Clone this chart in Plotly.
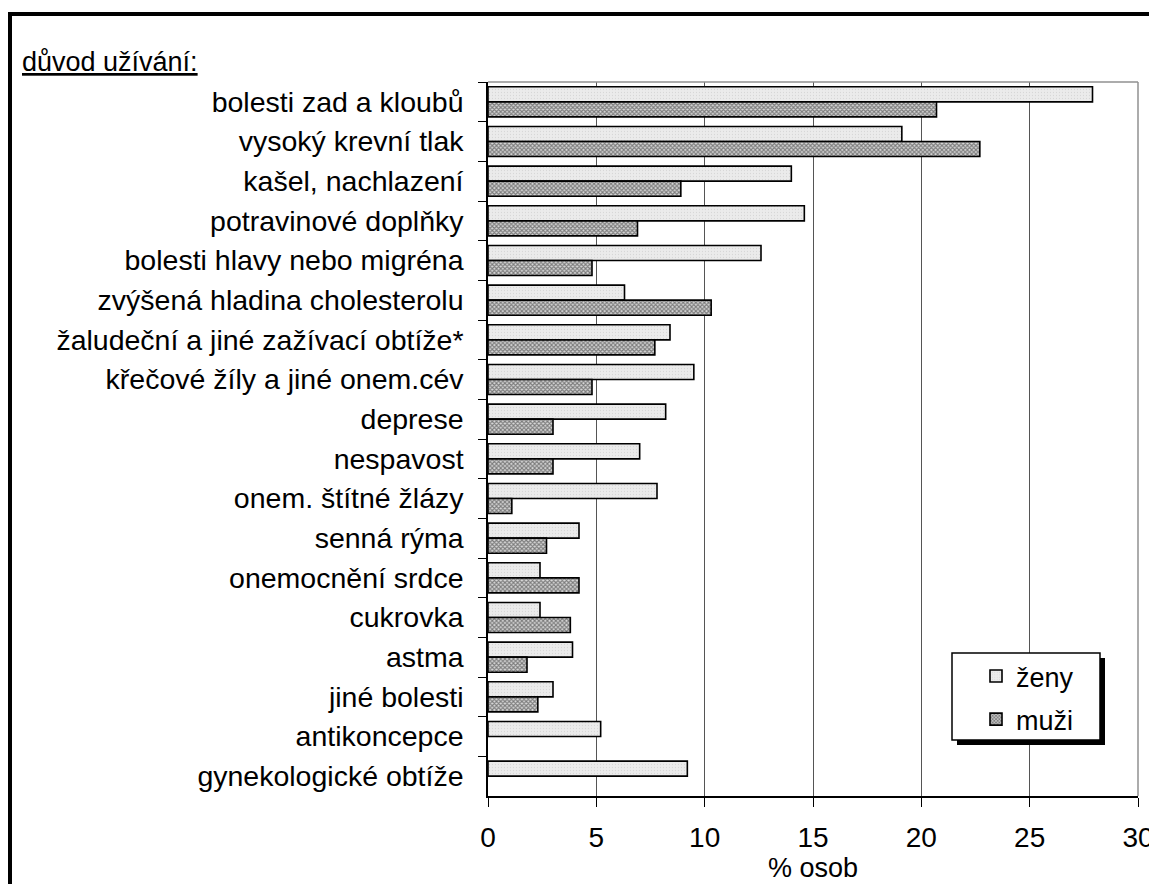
import plotly.graph_objects as go

# Reasons for medication use, share of respondents (%) by sex
categories = [
    "bolesti zad a kloubů",
    "vysoký krevní tlak",
    "kašel, nachlazení",
    "potravinové doplňky",
    "bolesti hlavy nebo migréna",
    "zvýšená hladina cholesterolu",
    "žaludeční a jiné zažívací obtíže*",
    "křečové žíly a jiné onem.cév",
    "deprese",
    "nespavost",
    "onem. štítné žlázy",
    "senná rýma",
    "onemocnění srdce",
    "cukrovka",
    "astma",
    "jiné bolesti",
    "antikoncepce",
    "gynekologické obtíže",
]
zeny = [27.9, 19.1, 14.0, 14.6, 12.6, 6.3, 8.4, 9.5, 8.2, 7.0, 7.8, 4.2, 2.4, 2.4, 3.9, 3.0, 5.2, 9.2]
muzi = [20.7, 22.7, 8.9, 6.9, 4.8, 10.3, 7.7, 4.8, 3.0, 3.0, 1.1, 2.7, 4.2, 3.8, 1.8, 2.3, None, None]
x_ticks = [0, 5, 10, 15, 20, 25, 30]

FONT = "Liberation Sans, Arial, sans-serif"

fig = go.Figure()
fig.add_trace(go.Bar(
    name="ženy", y=categories, x=zeny, orientation="h",
    legendgroup="z",
    marker=dict(color="#e6e6e6", line=dict(color="black", width=1.6),
                pattern=dict(shape=".", size=3, solidity=0.15,
                             fgcolor="#c4c4c4", bgcolor="#ebebeb")),
))
fig.add_trace(go.Bar(
    name="muži", y=categories, x=muzi, orientation="h",
    legendgroup="m",
    marker=dict(color="#909090", line=dict(color="black", width=1.6),
                pattern=dict(shape="x", size=3, solidity=0.6,
                             fgcolor="#202020", bgcolor="#d8d8d8")),
))

W, H = 1149, 884
L, R, T, B = 488, 11, 82, 88
pw, ph = W - L - R, H - T - B

def px_x(v):
    return (v - L) / pw

def px_y(v):
    return (H - B - v) / ph

shapes = [
    # outer frame
    dict(type="rect", xref="paper", yref="paper",
         x0=px_x(10), x1=px_x(1200), y0=px_y(950), y1=px_y(14),
         line=dict(color="black", width=4), layer="above"),
    # plot area top / right edges
    dict(type="line", xref="paper", yref="paper", x0=0, x1=1, y0=1, y1=1,
         line=dict(color="#909090", width=1.5)),
    dict(type="line", xref="paper", yref="paper", x0=1, x1=1, y0=0, y1=1,
         line=dict(color="#909090", width=1.5)),
    # legend box with drop shadow
    dict(type="rect", xref="paper", yref="paper",
         x0=px_x(957), x1=px_x(1105), y0=px_y(745), y1=px_y(658),
         fillcolor="black", line=dict(width=0), layer="above"),
    dict(type="rect", xref="paper", yref="paper",
         x0=px_x(952), x1=px_x(1100), y0=px_y(740), y1=px_y(653),
         fillcolor="white", line=dict(color="black", width=1.5), layer="above"),
]

fig.update_layout(
    width=W, height=H,
    margin=dict(l=L, r=R, t=T, b=B, autoexpand=False),
    paper_bgcolor="white", plot_bgcolor="white",
    barmode="group", bargap=0.24, bargroupgap=0.0,
    font=dict(family=FONT, size=27, color="black"),
    shapes=shapes,
    showlegend=True,
    legend=dict(
        x=px_x(976), y=px_y(652), xanchor="left", yanchor="top",
        bgcolor="rgba(0,0,0,0)", borderwidth=0,
        font=dict(size=27), traceorder="grouped", tracegroupgap=5,
        itemwidth=30,
    ),
    annotations=[
        dict(text="<u>důvod užívání:</u>", xref="paper", yref="paper",
             x=px_x(20), y=px_y(62), xanchor="left", yanchor="middle",
             showarrow=False, font=dict(size=27)),
    ],
)

fig.update_xaxes(
    range=[0, 30], tickvals=x_ticks, showgrid=True, gridcolor="#555555", gridwidth=1,
    showline=True, linecolor="black", linewidth=1.5,
    ticks="outside", ticklen=9, tickcolor="black", tickwidth=1.2,
    ticklabelstandoff=7, ticklabeloverflow="allow", tickfont=dict(size=28),
    zeroline=False,
    title=dict(text="% osob", font=dict(size=27), standoff=0), automargin=False,
)
fig.update_yaxes(
    type="category", autorange="reversed", tickson="boundaries",
    showline=True, linecolor="black", linewidth=1.5, showgrid=False,
    ticks="outside", ticklen=8, tickcolor="black", tickwidth=1.2,
    ticklabelstandoff=17, tickfont=dict(size=28.5), automargin=False,
)

fig.write_html("out.html")
